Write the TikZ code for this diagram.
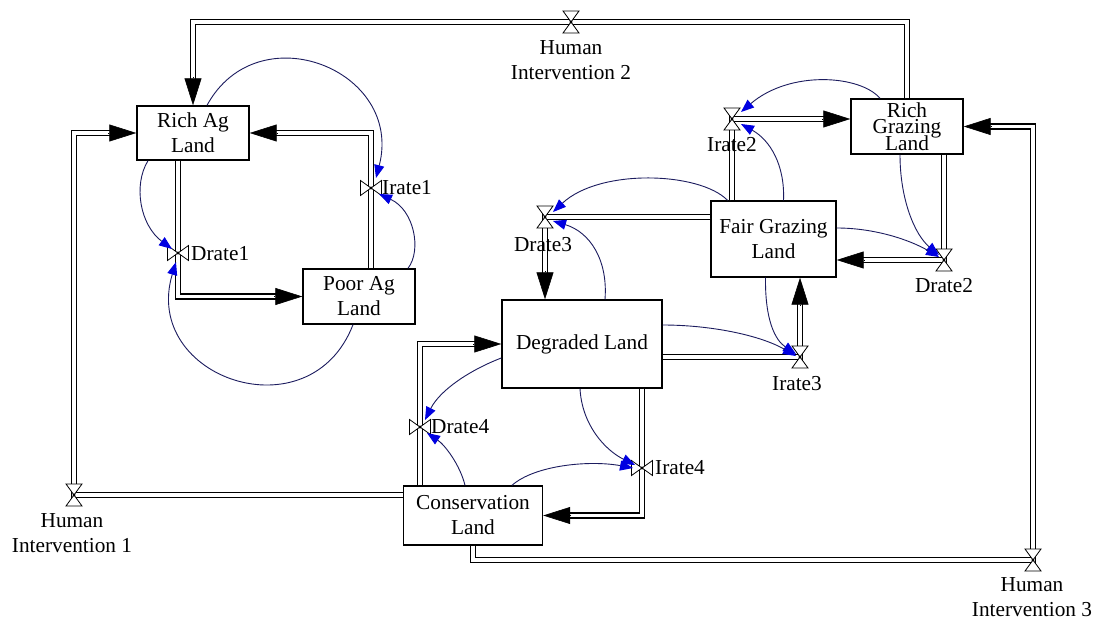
\documentclass[tikz,border=0pt]{standalone}
\usepackage{fontspec}
\setmainfont{Liberation Serif}
\usetikzlibrary{arrows.meta,calc}
\definecolor{navyline}{RGB}{28,28,95}
\definecolor{tipblue}{RGB}{0,0,225}
\newcommand\sdfont{\fontsize{21.3}{25}\selectfont}
\newcommand\sdtight{\fontsize{21.3}{16.5}\selectfont\lineskiplimit=-50pt\lineskip=0pt}
\begin{document}
\begin{tikzpicture}[x=1pt,y=-1pt,
  box/.style={draw=black, line width=1.4pt, fill=white, align=center, inner sep=0pt, font=\sdfont},
  lbl/.style={inner sep=0pt, align=center, font=\sdfont},
  pipe/.style={draw=black, line width=1.4pt, double=white, double distance=3.8pt},
  pipetip/.style={line width=0.6pt, -{Triangle[length=27pt,width=17pt]}},
  info/.style={draw=navyline, line width=0.9pt, -{Triangle[length=13pt,width=10pt,color=tipblue]}},
  valve/.style={draw=black, fill=white, line width=0.8pt},
  hglass/.pic={
    \draw[valve] (-8,-11) -- (8,-11) -- (0,0) -- cycle;
    \draw[valve] (-8,11) -- (8,11) -- (0,0) -- cycle;
    \fill (0,0) circle (1.6);
  },
  bowtie/.pic={
    \draw[valve] (-10.5,-7.5) -- (-10.5,7.5) -- (0,0) -- cycle;
    \draw[valve] (10.5,-7.5) -- (10.5,7.5) -- (0,0) -- cycle;
    \fill (0,0) circle (1.6);
  }]
\useasboundingbox[fill=white] (0,0) rectangle (1099,620);

% stocks
\node[box, minimum width=112pt, minimum height=54pt] (RA) at (193,133) {Rich Ag\\Land};
\node[box, minimum width=112pt, minimum height=55pt] (PA) at (359,296.5) {Poor Ag\\Land};
\node[box, minimum width=112pt, minimum height=55pt, font=\sdtight] (RG) at (907,126.5) {Rich\\Grazing\\Land};
\node[box, minimum width=125pt, minimum height=76pt] (FG) at (773.5,239) {Fair Grazing\\Land};
\node[box, minimum width=160pt, minimum height=88pt] (DL) at (582,344) {Degraded Land};
\node[box, minimum width=139pt, minimum height=59pt] (CL) at (473,515.5) {Conservation\\Land};

% valve positions
\coordinate (HI2) at (571,22);
\coordinate (HI1) at (74,495);
\coordinate (HI3) at (1033,560);
\coordinate (Ir1) at (371,188);
\coordinate (Dr1) at (178,253);
\coordinate (Ir2) at (732,119);
\coordinate (Dr2) at (944,260);
\coordinate (Dr3) at (545,217);
\coordinate (Ir3) at (800,357);
\coordinate (Dr4) at (420,427);
\coordinate (Ir4) at (642,468);

% flows (pipes)
\draw[pipe] (RG.north) |- (HI2) -| ($(RA.north)+(0,-26)$);
\draw[pipetip] ($(RA.north)+(0,-28)$) -- (RA.north);

\draw[pipe] (CL.west |- HI1) -- (HI1) |- ($(RA.west)+(-26,0)$);
\draw[pipetip] ($(RA.west)+(-28,0)$) -- (RA.west);

\draw[pipe] (CL.south) |- (HI3) |- ($(RG.east)+(26,0)$);
\draw[pipetip] ($(RG.east)+(28,0)$) -- (RG.east);

\draw[pipe] (PA.north -| Ir1) -- (Ir1) |- ($(RA.east)+(26,0)$);
\draw[pipetip] ($(RA.east)+(28,0)$) -- (RA.east);

\draw[pipe] (RA.south -| Dr1) -- (Dr1) |- ($(PA.west)+(-26,0)$);
\draw[pipetip] ($(PA.west)+(-28,0)$) -- (PA.west);

\draw[pipe] (FG.north -| Ir2) -- (Ir2) -- ($(RG.west |- Ir2)+(-26,0)$);
\draw[pipetip] ($(RG.west |- Ir2)+(-28,0)$) -- (RG.west |- Ir2);

\draw[pipe] (RG.south -| Dr2) -- (Dr2) -- ($(FG.east |- Dr2)+(26,0)$);
\draw[pipetip] ($(FG.east |- Dr2)+(28,0)$) -- (FG.east |- Dr2);

\draw[pipe] (FG.west |- Dr3) -- (Dr3) -- ($(Dr3 |- DL.north)+(0,-26)$);
\draw[pipetip] ($(Dr3 |- DL.north)+(0,-28)$) -- (Dr3 |- DL.north);

\draw[pipe] (DL.east |- Ir3) -- (Ir3) -- ($(Ir3 |- FG.south)+(0,26)$);
\draw[pipetip] ($(Ir3 |- FG.south)+(0,28)$) -- (Ir3 |- FG.south);

\draw[pipe] (CL.north -| Dr4) -- (Dr4) |- ($(DL.west)+(-26,0)$);
\draw[pipetip] ($(DL.west)+(-28,0)$) -- (DL.west);

\draw[pipe] (DL.south -| Ir4) -- (Ir4) |- ($(CL.east)+(26,0)$);
\draw[pipetip] ($(CL.east)+(28,0)$) -- (CL.east);

% valves
\pic at (HI2) {hglass};
\pic at (HI1) {hglass};
\pic at (HI3) {hglass};
\pic at (Ir2) {hglass};
\pic at (Dr2) {hglass};
\pic at (Dr3) {hglass};
\pic at (Ir3) {hglass};
\pic at (Ir1) {bowtie};
\pic at (Dr1) {bowtie};
\pic at (Dr4) {bowtie};
\pic at (Ir4) {bowtie};

% labels
\node[lbl] (HI2lbl) at (571,60) {Human\\Intervention 2};
\node[lbl] (HI1lbl) at (72,533) {Human\\Intervention 1};
\node[lbl] (HI3lbl) at (1032,597) {Human\\Intervention 3};
\node[lbl, anchor=west] (Ir1lbl) at (382,188) {Irate1};
\node[lbl, anchor=west] (Dr1lbl) at (191,254) {Drate1};
\node[lbl] (Ir2lbl) at (732,145) {Irate2};
\node[lbl] (Dr2lbl) at (944,286) {Drate2};
\node[lbl] (Dr3lbl) at (543,245) {Drate3};
\node[lbl] (Ir3lbl) at (797,384) {Irate3};
\node[lbl, anchor=west] (Dr4lbl) at (431,427) {Drate4};
\node[lbl, anchor=west] (Ir4lbl) at (655,468) {Irate4};

% information links
\draw[info] ($(RA.north)+(14,0)$) .. controls (258,12) and (404,70) .. ($(Ir1)+(5,-10)$);
\draw[info] ($(PA.north)+(49,0)$) .. controls (422,250) and (414,210) .. ($(Ir1)+(8,6)$);
\draw[info] ($(RA.south)+(-45,0)$) .. controls (133,185) and (140,225) .. ($(Dr1)+(-6,-4)$);
\draw[info] ($(PA.south)+(-6,0)$) .. controls (310,436) and (141,378) .. ($(Dr1)+(-2,9)$);
\draw[info] ($(RG.north)+(-27,0)$) .. controls (860,75) and (790,70) .. ($(Ir2)+(9,-7)$);
\draw[info] ($(FG.north)+(10,0)$) .. controls (785,165) and (770,140) .. ($(Ir2)+(9,5)$);
\draw[info] ($(RG.south)+(-7,0)$) .. controls (900,200) and (915,235) .. ($(Dr2)+(-5,-5)$);
\draw[info] ($(FG.east)+(0,-11)$) .. controls (875,228) and (910,240) .. ($(Dr2)+(-5,-3)$);
\draw[info] ($(FG.north)+(-46,0)$) .. controls (700,172) and (600,168) .. ($(Dr3)+(8,-5)$);
\draw[info] ($(DL.north)+(23,0)$) .. controls (608,260) and (590,232) .. ($(Dr3)+(8,4)$);
\draw[info] ($(FG.south)+(-8,0)$) .. controls (765,320) and (775,340) .. ($(Ir3)+(-4,-3)$);
\draw[info] ($(DL.east)+(0,-19)$) .. controls (710,325) and (760,335) .. ($(Ir3)+(-4,-1)$);
\draw[info] ($(DL.west)+(0,14)$) .. controls (470,370) and (440,390) .. ($(Dr4)+(5,-7)$);
\draw[info] ($(CL.north)+(-8,0)$) .. controls (460,465) and (445,445) .. ($(Dr4)+(7,6)$);
\draw[info] ($(DL.south)+(-2,0)$) .. controls (582,425) and (605,450) .. ($(Ir4)+(-7,-3)$);
\draw[info] ($(CL.north)+(39,0)$) .. controls (535,465) and (590,460) .. ($(Ir4)+(-9,0)$);
\end{tikzpicture}
\end{document}
